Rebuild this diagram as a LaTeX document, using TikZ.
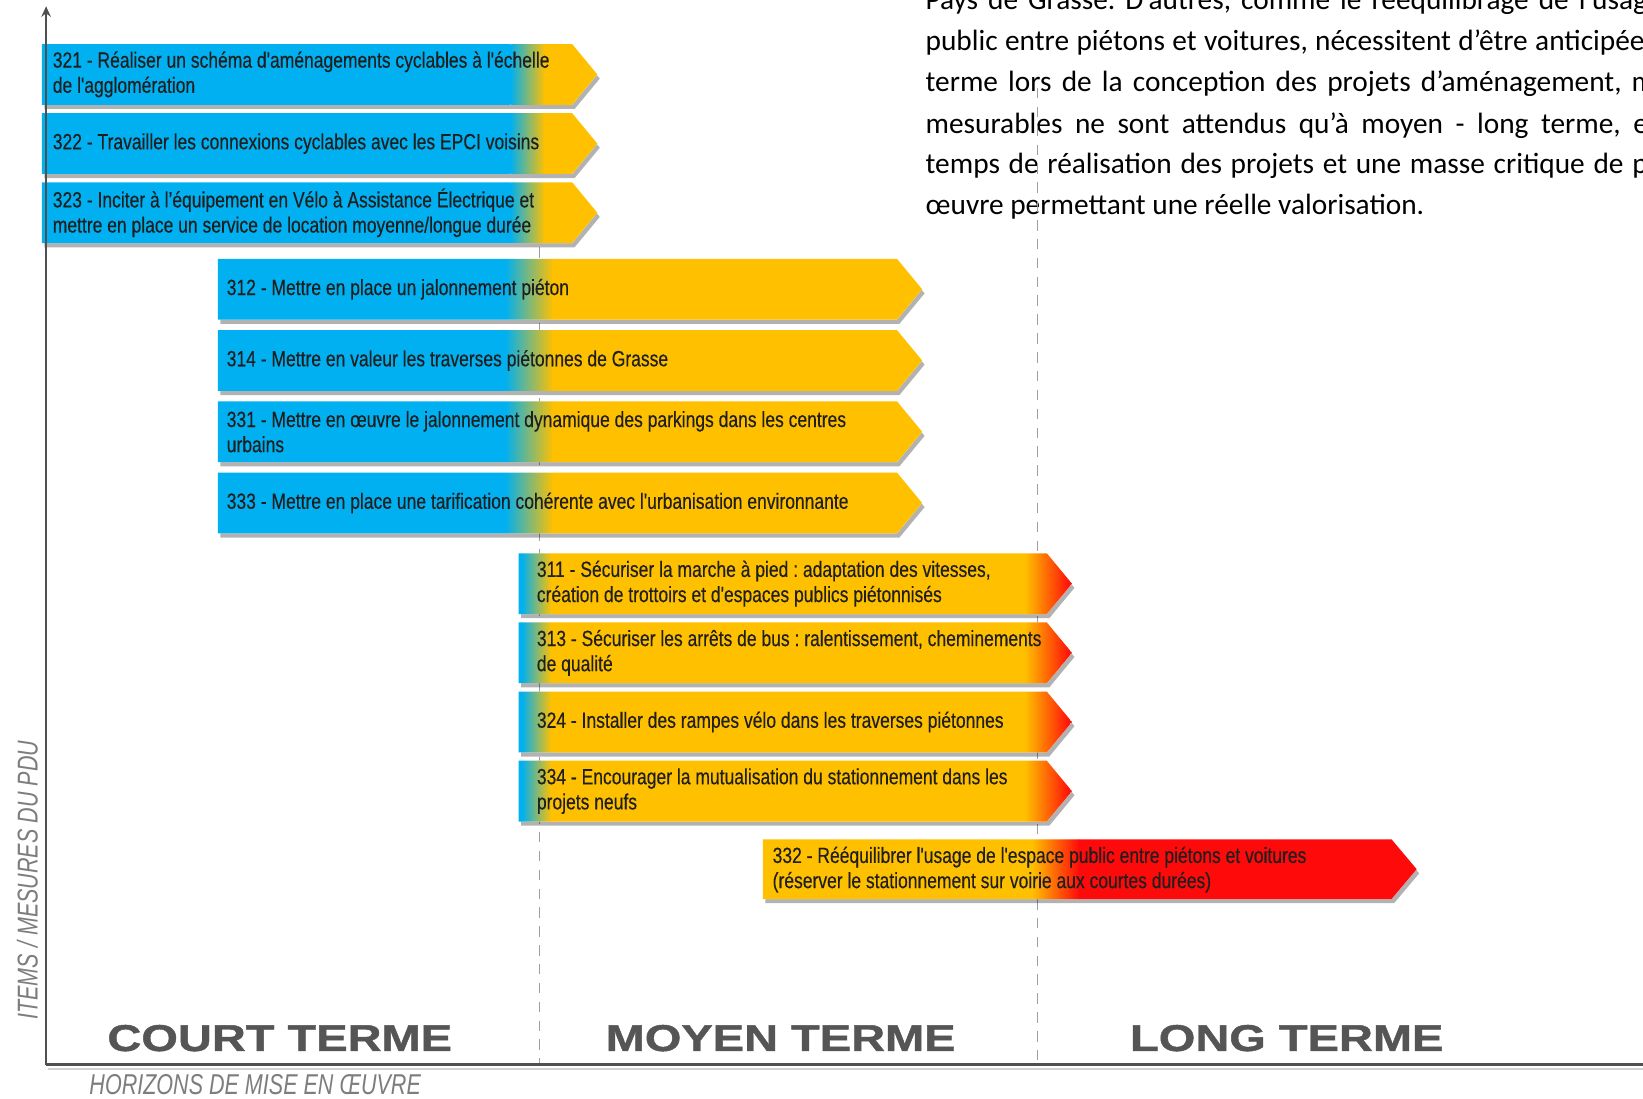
\documentclass[tikz,border=0pt]{standalone}
\usepackage{fontspec}
\setmainfont{Liberation Sans}
\newfontfamily\barfont[FakeStretch=0.795,FakeBold=0.3,Ligatures=TeXOff]{Liberation Sans}
\newfontfamily\bigfont[FakeStretch=1.26,FakeBold=1.2]{Liberation Sans}
\newfontfamily\axfont[FakeStretch=0.75]{Liberation Sans}
\newfontfamily\parfont{Carlito}
\usetikzlibrary{shadows,arrows.meta}
\definecolor{cblue}{RGB}{0,176,240}
\definecolor{corange}{RGB}{255,192,0}
\definecolor{cred}{RGB}{255,10,10}
\definecolor{axisgray}{RGB}{80,80,80}
\definecolor{labgray}{RGB}{85,85,85}
\definecolor{ltgray}{RGB}{125,125,125}
\frenchspacing
\tikzset{
  bartext/.style={font=\barfont\fontsize{10.5}{12}\selectfont, text=black!88, anchor=west, align=left, inner sep=0pt},
  barshadow/.style={fill=white, drop shadow={shadow xshift=1.2pt, shadow yshift=-2pt, opacity=0.3, fill=black}},
  partext/.style={font=\parfont\fontsize{14}{16}\selectfont\frenchspacing, text=black, anchor=base west, inner sep=0pt},
  termlabel/.style={font=\bigfont\bfseries\fontsize{17.8}{20}\selectfont, text=labgray, anchor=base, inner sep=0pt},
  axlabel/.style={font=\axfont\itshape\fontsize{13.7}{15}\selectfont, text=ltgray, inner sep=0pt},
  axisline/.style={draw=axisgray, line width=1.2pt},
  horizonline/.style={draw=gray!75, line width=0.8pt, dash pattern=on 5pt off 4pt},
}
\newcommand\gbar[9]{%
  \path[barshadow] (#1,#2) -- (#4,#2) -- (#5,{(#2+#3)/2}) -- (#4,#3) -- (#1,#3) -- cycle;
  \begin{scope}
    \clip (#1,#2) -- (#4,#2) -- (#5,{(#2+#3)/2}) -- (#4,#3) -- (#1,#3) -- cycle;
    \fill[cblue] (#1-2,#2-2) rectangle (#6,#3+2);
    \shade[left color=cblue,right color=corange] (#6,#2-2) rectangle (#7,#3+2);
    \fill[corange] (#7,#2-2) rectangle (#8,#3+2);
    \shade[left color=corange,right color=cred] (#8,#2-2) rectangle (#9,#3+2);
    \fill[cred] (#9,#2-2) rectangle (#5+2,#3+2);
  \end{scope}}
\begin{document}
\begin{tikzpicture}[x=0.5pt,y=-0.5pt]
\useasboundingbox (0,0) rectangle (1568,1048);
\begin{scope}
\clip (0,0) rectangle (1568,1048);
\fill[white] (0,0) rectangle (1568,1048);

% paragraph (cut by the frame)
\node[partext] (p1) at (883,9) {\makebox[351pt][s]{Pays de Grasse. D’autres, comme le rééquilibrage de l’usage}};
\node[partext] (p2) at (883,48) {\makebox[348.5pt][s]{public entre piétons et voitures, nécessitent d’être anticipées}};
\node[partext] (p3) at (883,87) {\makebox[363.5pt][s]{terme lors de la conception des projets d’aménagement, mais}};
\node[partext] (p4) at (883,127) {\makebox[352pt][s]{mesurables ne sont attendus qu’à moyen - long terme, en}};
\node[partext] (p5) at (883,166) {\makebox[377pt][s]{temps de réalisation des projets et une masse critique de projets}};
\node[partext] (p6) at (883,205) {œuvre permettant une réelle valorisation.};

% horizon separators
\coordinate (d1t) at (515,236);
\coordinate (d1b) at (515,1016);
\coordinate (d2t) at (990,84);
\coordinate (d2b) at (990,1016);
\draw[horizonline] (d1t) -- (d1b);
\draw[horizonline] (d2t) -- (d2b);

% bars
\gbar{40}{42}{100}{546}{570}{487}{520}{580}{590}
\gbar{40}{108}{166}{546}{570}{487}{520}{580}{590}
\gbar{40}{174}{232}{546}{570}{487}{520}{580}{590}
\gbar{208}{247}{305}{856}{880}{482}{528}{890}{900}
\gbar{208}{315}{373}{856}{880}{482}{528}{890}{900}
\gbar{208}{383}{441}{856}{880}{482}{528}{890}{900}
\gbar{208}{451}{509}{856}{880}{482}{528}{890}{900}
\gbar{495}{528}{586}{999}{1023}{498}{526}{978}{1022}
\gbar{495}{594}{652}{999}{1023}{498}{526}{978}{1022}
\gbar{495}{660}{718}{999}{1023}{498}{526}{978}{1022}
\gbar{495}{726}{784}{999}{1023}{498}{526}{978}{1022}
\gbar{728}{801}{858}{1328}{1352}{718}{723}{985}{1030}

\node[bartext] (t321) at (50,71) {321 - Réaliser un schéma d'aménagements cyclables à l'échelle\\de l'agglomération};
\node[bartext] (t322) at (50,137) {322 - Travailler les connexions cyclables avec les EPCI voisins};
\node[bartext] (t323) at (50,203) {323 - Inciter à l’équipement en Vélo à Assistance Électrique et\\mettre en place un service de location moyenne/longue durée};
\node[bartext] (t312) at (216,276) {312 - Mettre en place un jalonnement piéton};
\node[bartext] (t314) at (216,344) {314 - Mettre en valeur les traverses piétonnes de Grasse};
\node[bartext] (t331) at (216,412) {331 - Mettre en œuvre le jalonnement dynamique des parkings dans les centres\\urbains};
\node[bartext] (t333) at (216,480) {333 - Mettre en place une tarification cohérente avec l'urbanisation environnante};
\node[bartext] (t311) at (512,557) {311 - Sécuriser la marche à pied : adaptation des vitesses,\\création de trottoirs et d'espaces publics piétonnisés};
\node[bartext] (t313) at (512,623) {313 - Sécuriser les arrêts de bus : ralentissement, cheminements\\de qualité};
\node[bartext] (t324) at (512,689) {324 - Installer des rampes vélo dans les traverses piétonnes};
\node[bartext] (t334) at (512,755) {334 - Encourager la mutualisation du stationnement dans les\\projets neufs};
\node[bartext] (t332) at (737,830) {332 - Rééquilibrer l'usage de l'espace public entre piétons et voitures\\(réserver le stationnement sur voirie aux courtes durées)};

% axes
\coordinate (origin) at (44,1016);
\coordinate (ytop) at (44,6);
\coordinate (xend) at (1570,1016);
\coordinate (sh0) at (46,1020);
\coordinate (sh1) at (1570,1020);
\draw[draw=gray!35, line width=1pt] (sh0) -- (sh1);
\draw[axisline] (origin) -- (xend);
\draw[axisline, -{Stealth[length=5pt,width=4.5pt]}] (origin) -- (ytop);

% labels
\node[termlabel] (court) at (267,1003) {COURT TERME};
\node[termlabel] (moyen) at (745,1003) {MOYEN TERME};
\node[termlabel] (long) at (1228,1003) {LONG TERME};
\node[axlabel, anchor=base west] (horizons) at (85,1045) {HORIZONS DE MISE EN ŒUVRE};
\node[axlabel, rotate=90, anchor=base] (items) at (36,840) {ITEMS / MESURES DU PDU};
\end{scope}
\end{tikzpicture}
\end{document}
